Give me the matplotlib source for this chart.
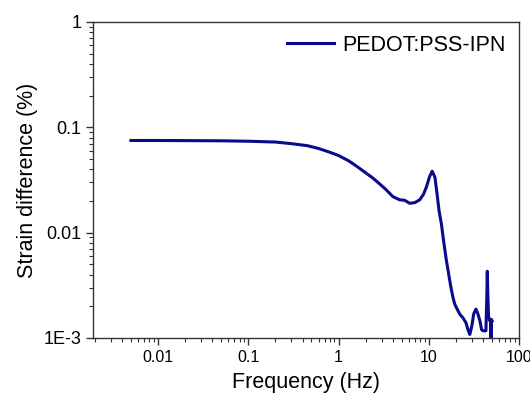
import matplotlib.pyplot as plt
from matplotlib.ticker import LogLocator, FixedLocator, NullFormatter

# data (Hz, %)
freq = [0.005, 0.01, 0.02, 0.05, 0.1, 0.2, 0.3, 0.45, 0.6, 0.8, 1.0, 1.3, 1.6, 2.0, 2.4,
        2.86, 3.3, 4.0, 4.76, 5.4, 6.15, 7.0, 7.94, 8.7, 9.4, 10.2, 10.9, 11.7, 12.3,
        13.0, 13.8, 14.7, 15.7, 16.5, 17.4, 18.4, 19.4, 20.5, 22.1, 24.0, 25.8, 27.2,
        28.5, 30.0, 31.5, 33.3, 35.0, 36.9, 38.5, 39.9, 43.0, 44.0, 44.5, 45.2, 46.0,
        47.6, 48.3, 49.0, 49.6, 50.4]
strain = [0.075, 0.075, 0.0748, 0.0745, 0.0738, 0.0725, 0.070, 0.067, 0.063, 0.058,
          0.054, 0.048, 0.0425, 0.037, 0.033, 0.029, 0.026, 0.022, 0.0205, 0.0203,
          0.019, 0.0193, 0.0205, 0.023, 0.027, 0.034, 0.0384, 0.0336, 0.024, 0.0162,
          0.0121, 0.008, 0.0054, 0.0042, 0.0032, 0.0025, 0.0021, 0.0019, 0.00168,
          0.00155, 0.0014, 0.0012, 0.00108, 0.0013, 0.0017, 0.00188, 0.0017, 0.00145,
          0.0012, 0.00117, 0.00117, 0.0025, 0.0043, 0.0025, 0.0016, 0.00145, 0.0015,
          0.001, 0.0015, 0.00145]
label = "PEDOT:PSS-IPN"

plt.rcParams['font.family'] = ['Liberation Sans', 'DejaVu Sans']

fig = plt.figure(figsize=(5.3, 3.93), dpi=100)
ax = fig.add_axes([93/530, 1 - 338/393, (519-93)/530, (338-22)/393])

ax.plot(freq, strain, color='#0a0a8c', lw=2.2, label=label)

ax.set_xscale('log')
ax.set_yscale('log')
ax.set_xlim(0.0019, 100)
ax.set_ylim(1e-3, 1)

ax.xaxis.set_major_locator(FixedLocator([0.01, 0.1, 1, 10, 100]))
ax.set_xticklabels(['0.01', '0.1', '1', '10', '100'])
ax.xaxis.set_minor_locator(LogLocator(base=10, subs=range(2, 10), numticks=20))
ax.xaxis.set_minor_formatter(NullFormatter())
ax.yaxis.set_major_locator(FixedLocator([1e-3, 0.01, 0.1, 1]))
ax.set_yticklabels(['1E-3', '0.01', '0.1', '1'])
ax.yaxis.set_minor_locator(LogLocator(base=10, subs=range(2, 10), numticks=20))
ax.yaxis.set_minor_formatter(NullFormatter())

ax.tick_params(which='major', direction='out', length=5, width=1, labelsize=13, color='#333333')
ax.tick_params(which='minor', direction='out', length=3, width=0.8, color='#333333')
ax.tick_params(axis='x', which='major', labelsize=11.5)
for s in ax.spines.values():
    s.set_color('#333333')
    s.set_linewidth(1)

ax.set_xlabel("Frequency (Hz)", fontsize=15.5, labelpad=5)
ax.set_ylabel("Strain difference (%)", fontsize=15.5, labelpad=4)

ax.legend(loc='upper right', frameon=False, fontsize=15.5, handlelength=2.2,
          borderaxespad=0.2, handletextpad=0.4)

plt.savefig("out.png", dpi=100)
